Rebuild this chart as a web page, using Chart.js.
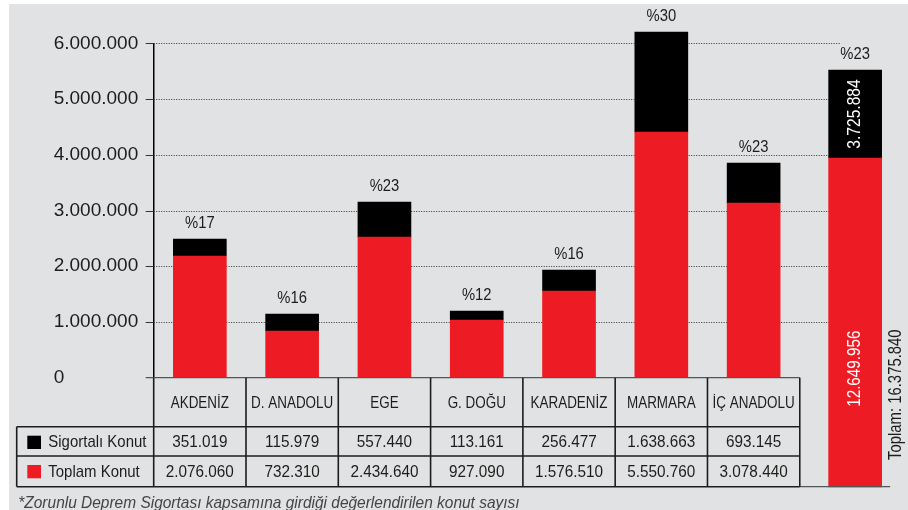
<!DOCTYPE html>
<html>
<head>
<meta charset="utf-8">
<script src="https://cdn.jsdelivr.net/npm/chart.js@4"></script>
<style>
  html, body { margin: 0; padding: 0; background: #fff; }
</style>
</head>
<body>
<canvas id="deprem" width="908" height="510"></canvas>
<script>
const regions = ['AKDENİZ', 'D. ANADOLU', 'EGE', 'G. DOĞU', 'KARADENİZ', 'MARMARA', 'İÇ ANADOLU'];
const sigortaliKonut = ['351.019', '115.979', '557.440', '113.161', '256.477', '1.638.663', '693.145'];
const toplamKonut = ['2.076.060', '732.310', '2.434.640', '927.090', '1.576.510', '5.550.760', '3.078.440'];
const percentLabels = ['%17', '%16', '%23', '%12', '%16', '%30', '%23', '%23'];

// bar heights as drawn in the picture (the last "total" bar is not to scale)
const barPos = [0, 1, 2, 3, 4, 5, 6, 7.1];
const barBase = [0, 0, 0, 0, 0, 0, 0, -1961000];
const redTop = [2184000, 838000, 2525000, 1035000, 1556000, 4409000, 3135000, 3942000];
const blackTop = [2489000, 1143000, 3153000, 1197000, 1933000, 6203000, 3853000, 5521000];

const totalSigortali = '3.725.884';
const totalToplam = '12.649.956';
const totalAll = 'Toplam: 16.375.840';
const footnote = '*Zorunlu Deprem Sigortası kapsamına girdiği değerlendirilen konut sayısı';

const INK = '#1d1d1b';
const RED = '#ed1c24';
const FONT = '"Liberation Sans", Arial, sans-serif';

function fmt(v) {
  return String(v).replace(/\B(?=(\d{3})+(?!\d))/g, '.');
}

function txt(ctx, s, x, y, sx, align, rot) {
  ctx.save();
  ctx.translate(x, y);
  if (rot) ctx.rotate(rot);
  ctx.scale(sx, 1);
  ctx.textAlign = align || 'center';
  ctx.textBaseline = 'middle';
  ctx.fillText(s, 0, 0);
  ctx.restore();
}

function line(ctx, x1, y1, x2, y2) {
  ctx.beginPath();
  ctx.moveTo(x1, y1);
  ctx.lineTo(x2, y2);
  ctx.stroke();
}

const backdrop = {
  id: 'backdrop',
  beforeDraw(chart) {
    const ctx = chart.ctx;
    ctx.save();
    ctx.fillStyle = '#fff';
    ctx.fillRect(0, 0, chart.width, chart.height);
    ctx.fillStyle = '#e1e2e4';
    ctx.fillRect(9, 4, chart.width - 9, chart.height - 4);
    ctx.restore();
  },
  beforeDatasetsDraw(chart) {
    const ctx = chart.ctx;
    const ys = chart.scales.y, xs = chart.scales.x;
    const left = chart.chartArea.left;
    const end = xs.getPixelForValue(6.95);
    ctx.save();
    ctx.lineWidth = 1;
    ctx.strokeStyle = '#333';
    for (let v = 1000000; v <= 6000000; v += 1000000) {
      const y = Math.round(ys.getPixelForValue(v)) + 0.5;
      ctx.setLineDash([]);
      line(ctx, left - 8, y, left, y);
      ctx.setLineDash([1, 1.5]);
      line(ctx, left, y, end, y);
    }
    ctx.restore();
  }
};

const table = {
  id: 'table',
  afterDatasetsDraw(chart) {
    const ctx = chart.ctx;
    const ys = chart.scales.y, xs = chart.scales.x;
    const zero = ys.getPixelForValue(0);
    const rowA = zero + 49, rowB = zero + 78.3, bottom = zero + 109;
    const tableLeft = 16.7;
    const edges = [];
    for (let i = 0; i <= regions.length; i++) edges.push(xs.getPixelForValue(i - 0.5));
    const right = edges[edges.length - 1];
    const lastX = xs.getPixelForValue(barPos[7]);

    ctx.save();
    // grey base line
    ctx.strokeStyle = '#555';
    ctx.lineWidth = 1.3;
    line(ctx, chart.chartArea.left - 8, zero, right, zero);
    line(ctx, right, bottom, lastX + 35, bottom);

    ctx.strokeStyle = INK;
    ctx.lineWidth = 1.6;
    edges.forEach(x => line(ctx, x, zero, x, bottom));
    [rowA, rowB, bottom].forEach(y => line(ctx, tableLeft, y, right, y));
    line(ctx, tableLeft, rowA, tableLeft, bottom);

    // legend squares
    ctx.fillStyle = '#000';
    ctx.fillRect(27.3, rowA + 9, 13.7, 13.3);
    ctx.fillStyle = RED;
    ctx.fillRect(27.3, rowB + 9, 13.7, 13.3);

    ctx.fillStyle = INK;
    ctx.font = '17px ' + FONT;
    txt(ctx, 'Sigortalı Konut', 48.3, rowA + 16, 0.88, 'left');
    txt(ctx, 'Toplam Konut', 48.3, rowB + 16, 0.88, 'left');

    regions.forEach((r, i) => {
      const cx = xs.getPixelForValue(i);
      txt(ctx, r, cx, zero + 26, 0.79);
      txt(ctx, sigortaliKonut[i], cx, rowA + 16, 0.9);
      txt(ctx, toplamKonut[i], cx, rowB + 16, 0.9);
    });

    // percentages above bars
    percentLabels.forEach((p, i) => {
      const x = xs.getPixelForValue(barPos[i]);
      const y = ys.getPixelForValue(blackTop[i]) - 16;
      txt(ctx, p, x, y, 0.87);
    });

    // vertical labels on the total bar
    const rot = -Math.PI / 2;
    ctx.font = '17.5px ' + FONT;
    ctx.fillStyle = '#fff';
    const segMid = (ys.getPixelForValue(redTop[7]) + ys.getPixelForValue(blackTop[7])) / 2;
    txt(ctx, totalSigortali, lastX, segMid, 0.89, 'center', rot);
    txt(ctx, totalToplam, lastX, zero - 9, 0.87, 'center', rot);
    ctx.fillStyle = INK;
    txt(ctx, totalAll, lastX + 41.5, zero + 17, 0.85, 'center', rot);

    // footnote
    ctx.fillStyle = '#444';
    ctx.font = 'italic 17px ' + FONT;
    txt(ctx, footnote, 18.3, zero + 125.5, 0.91, 'left');
    ctx.restore();
  }
};

new Chart(document.getElementById('deprem'), {
  type: 'bar',
  data: {
    datasets: [
      {
        label: 'Toplam Konut',
        data: barPos.map((x, i) => ({ x, y: [barBase[i], redTop[i]] })),
        backgroundColor: RED,
        grouped: false,
        barThickness: 53,
        clip: false
      },
      {
        label: 'Sigortalı Konut',
        data: barPos.map((x, i) => ({ x, y: [redTop[i], blackTop[i]] })),
        backgroundColor: '#000',
        grouped: false,
        barThickness: 53,
        clip: false
      }
    ]
  },
  options: {
    responsive: false,
    devicePixelRatio: 1,
    animation: false,
    layout: { padding: { left: 53.7, right: 6.7, top: 43.3, bottom: 132.3 } },
    plugins: { legend: { display: false }, tooltip: { enabled: false } },
    scales: {
      x: { type: 'linear', min: -0.5, max: 7.6, offset: false, display: false },
      y: {
        min: 0,
        max: 6000000,
        afterFit(s) { s.width = 100; },
        grid: { display: false },
        border: { display: true, color: '#000', width: 1.5 },
        ticks: {
          stepSize: 1000000,
          crossAlign: 'far',
          color: INK,
          font: { family: FONT, size: 19 },
          callback: v => fmt(v)
        }
      }
    }
  },
  plugins: [backdrop, table]
});
</script>
</body>
</html>
